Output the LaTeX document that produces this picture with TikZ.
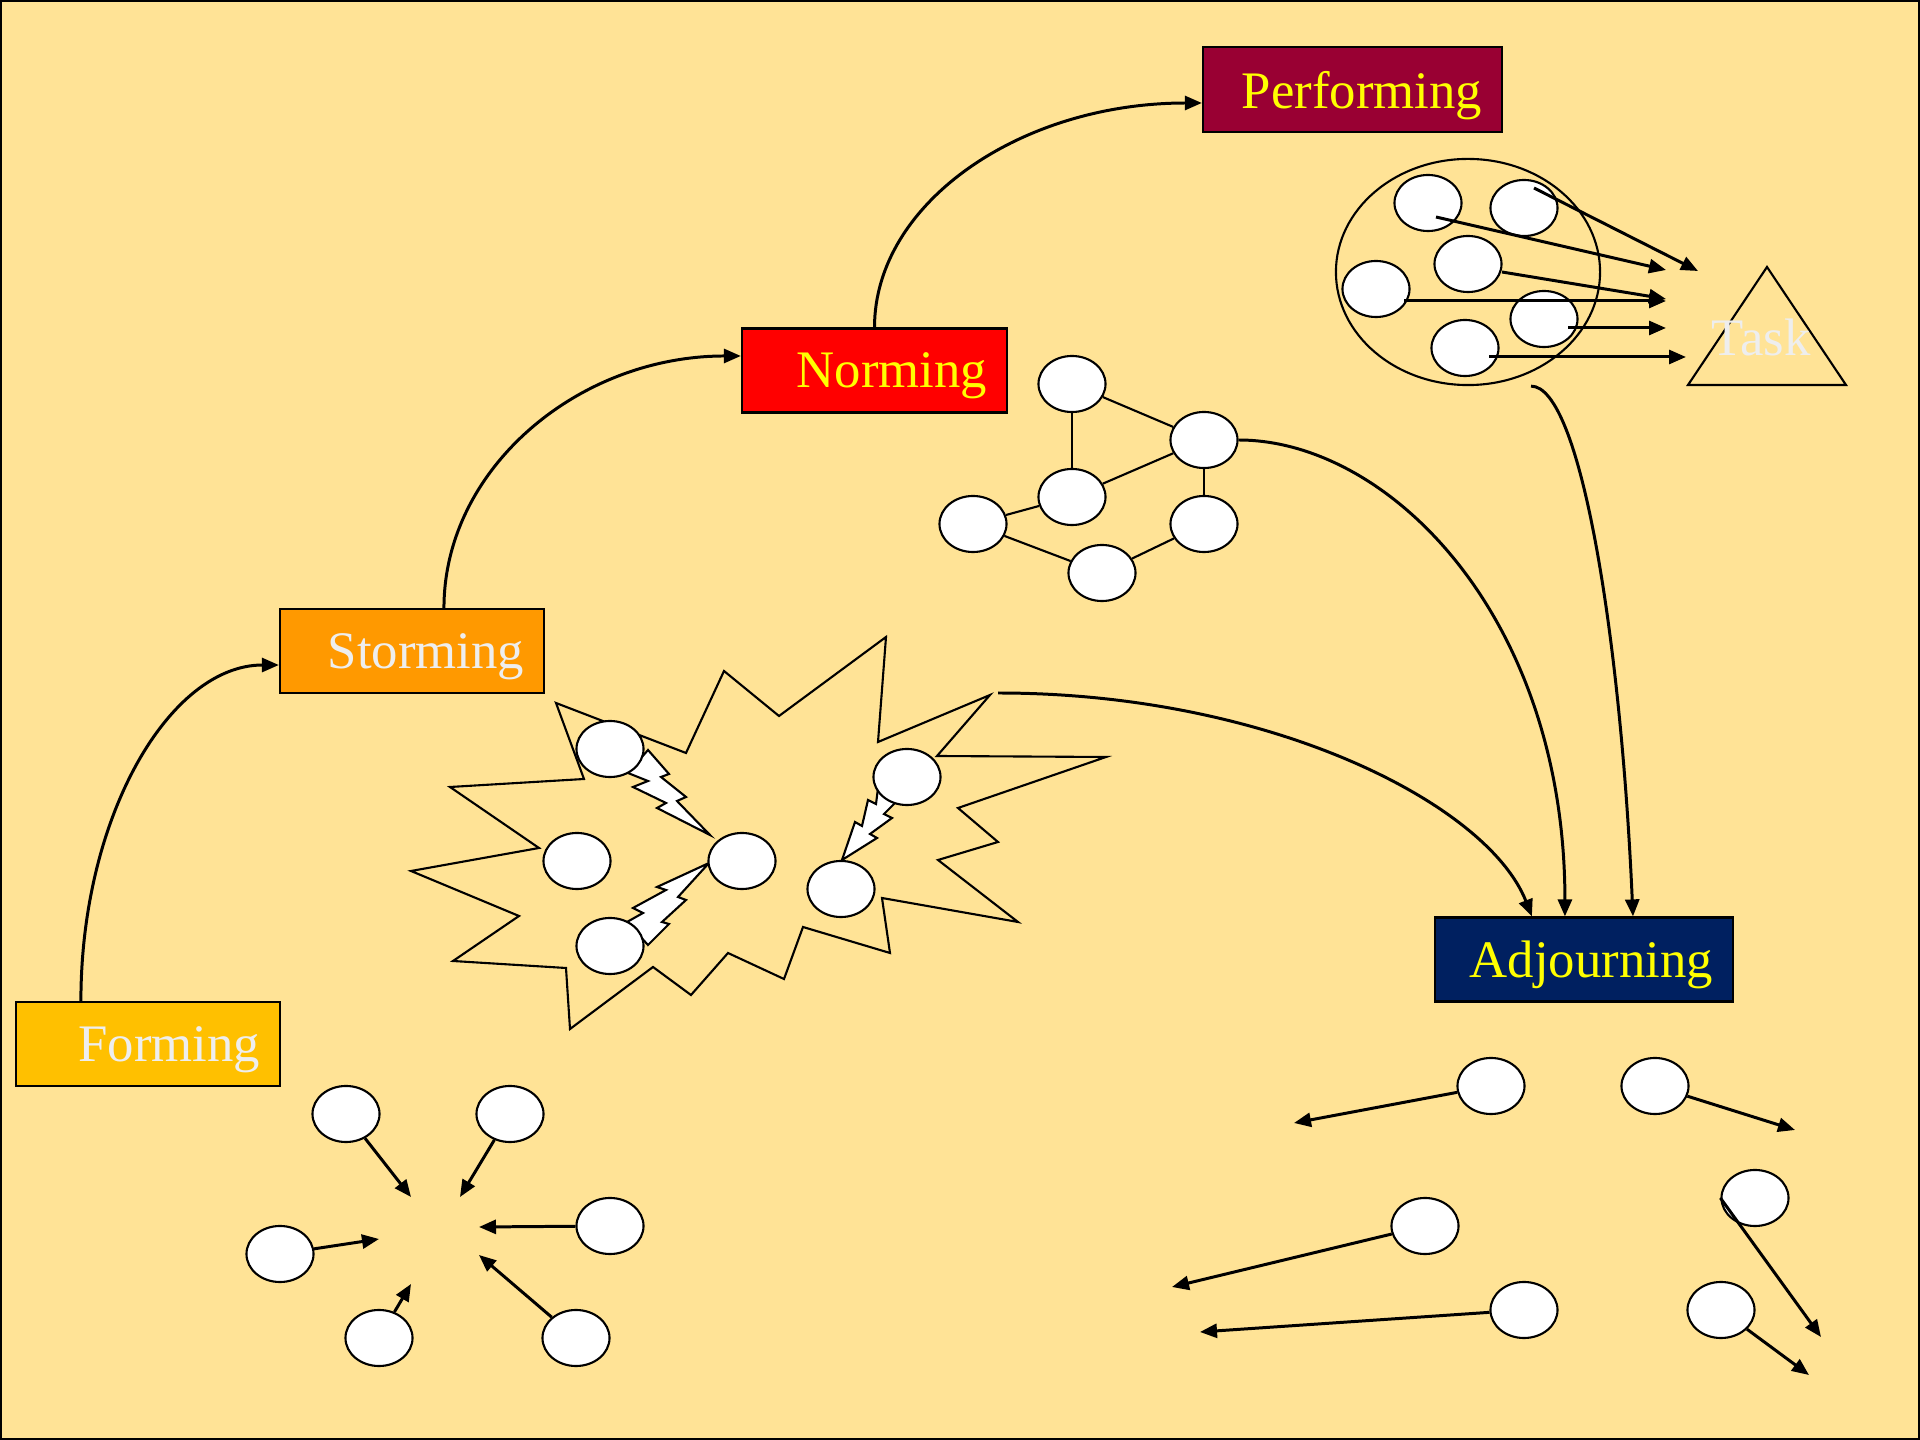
\documentclass[tikz,border=0pt]{standalone}
\usepackage{fontspec}
\setmainfont{Liberation Serif}
\usetikzlibrary{shapes.geometric,arrows.meta}
\definecolor{bg}{HTML}{FFE396}
\definecolor{formcol}{HTML}{FFC000}
\definecolor{stormcol}{HTML}{FF9900}
\definecolor{normcol}{HTML}{FF0000}
\definecolor{perfcol}{HTML}{990033}
\definecolor{adjcol}{HTML}{002060}
\definecolor{pale}{HTML}{EEEEEE}
\definecolor{gelb}{HTML}{FFFF00}

\begin{document}
\begin{tikzpicture} [x=0.01cm, y=-0.01cm, >={Triangle[length=0.17cm,width=0.14cm]},
                    stage/.style={rectangle,draw,line width=0.6pt,minimum height=0.84cm,inner xsep=0.2cm,align=right,text depth=0pt,font=\fontsize{15}{18}\selectfont},
                    blob/.style={ellipse,draw,fill=white,line width=0.6pt,minimum width=0.67cm,minimum height=0.56cm,inner sep=0pt},
                    link/.style={line width=0.85pt},
                    wire/.style={line width=0.6pt}]

\useasboundingbox (0,0) rectangle (1920,1440);
\fill[bg] (0,0) rectangle (1920,1440);
\draw[wire] (1,1) rectangle (1919,1439);

\node[stage,fill=formcol,text=pale,text width=2.24cm] (form) at (148,1044) {Forming};
\node[stage,fill=stormcol,text=pale,text width=2.24cm] (storm) at (412,651) {Storming};
\node[stage,fill=normcol,text=gelb,text width=2.25cm] (norm) at (874.5,370.5) {Norming};
\node[stage,fill=perfcol,text=gelb,text width=2.59cm,minimum height=0.85cm] (perf) at (1352.5,89.5) {Performing};
\node[stage,fill=adjcol,text=gelb,text width=2.58cm] (adj) at (1584,959.5) {Adjourning};

\draw[link,->] ([xshift=0.66cm]form.north west) .. controls +(0,-185) and +(-109,0) .. ([yshift=-0.14cm]storm.west);
\draw[link,->] ([xshift=1.65cm]storm.north west) .. controls +(0,-139) and +(-163,0) .. ([yshift=0.145cm]norm.west);
\draw[link,->] (norm.north) .. controls +(0,-124) and +(-182,0) .. ([yshift=-0.135cm]perf.west);

\node[blob] (f1) at (346,1114) {};
\node[blob] (f2) at (510,1114) {};
\node[blob] (f3) at (610,1226) {};
\node[blob] (f4) at (280,1254) {};
\node[blob] (f5) at (379,1338) {};
\node[blob] (f6) at (576,1338) {};
\coordinate (g1) at (411,1197);
\coordinate (g2) at (460,1197);
\coordinate (g3) at (479,1227);
\coordinate (g4) at (379,1239);
\coordinate (g5) at (411,1284);
\coordinate (g6) at (479,1255);
\draw[link,->] (f1) -- (g1);
\draw[link,->] (f2) -- (g2);
\draw[link,->] (f3) -- (g3);
\draw[link,->] (f4) -- (g4);
\draw[link,->] (f5) -- (g5);
\draw[link,->] (f6) -- (g6);

\draw[wire] (556,703) -- (686,753) -- (724,671) -- (779,716) -- (886,637) -- (878,742) -- (990,695)
    -- (937,756) -- (1106,757) -- (958,808) -- (998,842) -- (938,860) -- (1018,922) -- (882,898)
    -- (890,953) -- (803,927) -- (784,979) -- (728,953) -- (691,995) -- (653,967) -- (570,1029)
    -- (566,968) -- (453,961) -- (519,916) -- (411,871) -- (539,848) -- (450,787) -- (584,779) -- cycle;
\draw[wire,fill=white] (648,750) -- (669,774) -- (661,777) -- (686,797) -- (677,801) -- (710,835)
    -- (657,808) -- (666,803) -- (633,787) -- (648,781) -- (628,773) -- cycle;
\draw[wire,fill=white] (709,863) -- (657,887) -- (666,890) -- (633,908) -- (643,913) -- (627,922)
    -- (648,945) -- (669,924) -- (662,922) -- (686,900) -- (678,897) -- cycle;
\draw[wire,fill=white] (842,860) -- (855,822) -- (862,826) -- (868,800) -- (876,804) -- (878,788)
    -- (896,802) -- (884,814) -- (892,818) -- (870,834) -- (877,838) -- cycle;
\node[blob] (s1) at (610,749) {};
\node[blob] (s2) at (577,861) {};
\node[blob] (s3) at (742,861) {};
\node[blob] (s4) at (610,946) {};
\node[blob] (s5) at (907,777) {};
\node[blob] (s6) at (841,889) {};
\coordinate (burst) at (998,693);

\node[blob] (n1) at (1072,384) {};
\node[blob] (n2) at (1204,440) {};
\node[blob] (n3) at (1072,497) {};
\node[blob] (n4) at (973,524) {};
\node[blob] (n5) at (1204,524) {};
\node[blob] (n6) at (1102,573) {};
\path[wire]
    (n1) edge (n2)
    (n1) edge (n3)
    (n3) edge (n2)
    (n2) edge (n5)
    (n3) edge (n4)
    (n4) edge (n6)
    (n6) edge (n5);

\node[ellipse,draw,wire,minimum width=2.64cm,minimum height=2.26cm] (team) at (1468,272) {};
\node[blob] (p1) at (1428,203) {};
\node[blob] (p2) at (1524,208) {};
\node[blob] (p3) at (1468,264) {};
\node[blob] (p4) at (1376,289) {};
\node[blob] (p5) at (1544,319) {};
\node[blob] (p6) at (1465,348) {};
\draw[wire] (1767,267) -- (1688,385) -- (1846,385) -- cycle;
\node[text=pale,font=\fontsize{15}{18}\selectfont] (task) at (1761,337) {Task};
\coordinate (t1) at (1666,270);
\coordinate (t2) at (1698,271);
\coordinate (t3) at (1666,299);
\coordinate (t4) at (1666,301);
\coordinate (t5) at (1666,328);
\coordinate (t6) at (1686,357);
\draw[link,->] ([shift={(8,14)}]p1.center) -- (t1);
\draw[link,->] ([shift={(10,-20)}]p2.center) -- (t2);
\draw[link,->] ([shift={(34,8)}]p3.center) -- (t3);
\draw[link,->] ([shift={(28,12)}]p4.center) -- (t4);
\draw[link,->] ([shift={(24,9)}]p5.center) -- (t5);
\draw[link,->] ([shift={(24,9)}]p6.center) -- (t6);

\draw[link,->] (burst) .. controls +(273,0) and +(-44,-112) .. ([xshift=0.98cm]adj.north west);
\draw[link,->] (n2.east) .. controls +(150,0) and +(0,-300) .. ([xshift=1.31cm]adj.north west);
\draw[link,->] ([xshift=0.63cm]team.south) .. controls +(50,0) and +(-12,-275) .. ([xshift=1.99cm]adj.north west);

\node[blob] (q1) at (1491,1086) {};
\node[blob] (q2) at (1655,1086) {};
\node[blob] (q3) at (1755,1198) {};
\node[blob] (q4) at (1425,1226) {};
\node[blob] (q5) at (1524,1310) {};
\node[blob] (q6) at (1721,1310) {};
\coordinate (r1) at (1294,1123);
\coordinate (r2) at (1795,1130);
\coordinate (r3) at (1821,1337);
\coordinate (r4) at (1172,1287);
\coordinate (r5) at (1200,1332);
\coordinate (r6) at (1809,1375);
\draw[link,->] (q1) -- (r1);
\draw[link,->] (q2) -- (r2);
\draw[link,->] (q3.west) -- (r3);
\draw[link,->] (q4) -- (r4);
\draw[link,->] (q5) -- (r5);
\draw[link,->] (q6) -- (r6);
\end{tikzpicture}
\end{document}
